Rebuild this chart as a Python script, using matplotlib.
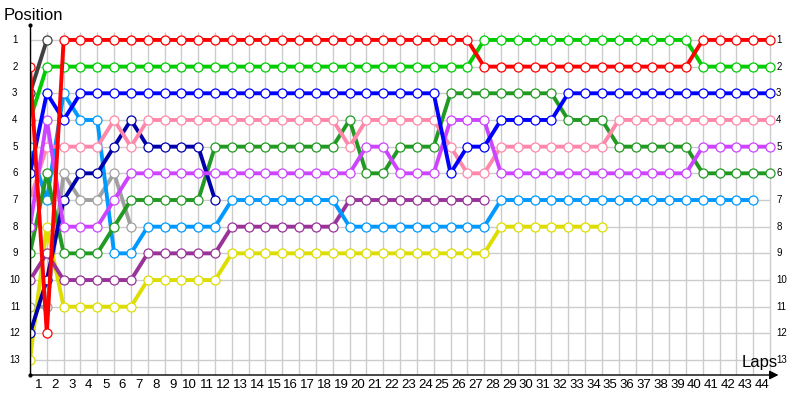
import matplotlib.pyplot as plt

plt.rcParams['font.family'] = ['Liberation Sans', 'DejaVu Sans']

# lap 0 = start, then laps 1..44 ; each list is the running position per lap
laps = list(range(45))
positions = list(range(1, 14))

red = [2, 12, 1, 1, 1, 1, 1, 1, 1, 1, 1, 1, 1, 1, 1, 1, 1, 1, 1, 1, 1, 1, 1, 1, 1, 1, 1,
       2, 2, 2, 2, 2, 2, 2, 2, 2, 2, 2, 2, 2, 1, 1, 1, 1, 1]
green = [4, 2, 2, 2, 2, 2, 2, 2, 2, 2, 2, 2, 2, 2, 2, 2, 2, 2, 2, 2, 2, 2, 2, 2, 2, 2, 2,
         1, 1, 1, 1, 1, 1, 1, 1, 1, 1, 1, 1, 1, 2, 2, 2, 2, 2]
blue = [6, 3, 4, 3, 3, 3, 3, 3, 3, 3, 3, 3, 3, 3, 3, 3, 3, 3, 3, 3, 3, 3, 3, 3, 3, 6, 5,
        5, 4, 4, 4, 4, 3, 3, 3, 3, 3, 3, 3, 3, 3, 3, 3, 3, 3]
dkgreen = [9, 6, 9, 9, 9, 8, 7, 7, 7, 7, 7, 5, 5, 5, 5, 5, 5, 5, 5, 4, 6, 6, 5, 5, 5, 3, 3,
           3, 3, 3, 3, 3, 4, 4, 4, 5, 5, 5, 5, 5, 6, 6, 6, 6, 6]
pink = [7, 5, 5, 5, 5, 4, 5, 4, 4, 4, 4, 4, 4, 4, 4, 4, 4, 4, 4, 5, 4, 4, 4, 4, 4, 5, 6,
        6, 5, 5, 5, 5, 5, 5, 5, 4, 4, 4, 4, 4, 4, 4, 4, 4, 4]
violet = [8, 4, 8, 8, 8, 7, 6, 6, 6, 6, 6, 6, 6, 6, 6, 6, 6, 6, 6, 6, 5, 5, 6, 6, 6, 4, 4,
          4, 6, 6, 6, 6, 6, 6, 6, 6, 6, 6, 6, 6, 5, 5, 5, 5, 5]
ltblue = [5, 7, 3, 4, 4, 9, 9, 8, 8, 8, 8, 8, 7, 7, 7, 7, 7, 7, 7, 8, 8, 8, 8, 8, 8, 8, 8,
          8, 7, 7, 7, 7, 7, 7, 7, 7, 7, 7, 7, 7, 7, 7, 7, 7]
purple = [10, 9, 10, 10, 10, 10, 10, 9, 9, 9, 9, 9, 8, 8, 8, 8, 8, 8, 8, 7, 7, 7, 7, 7, 7, 7, 7, 7]
yellow = [13, 8, 11, 11, 11, 11, 11, 10, 10, 10, 10, 10, 9, 9, 9, 9, 9, 9, 9, 9, 9, 9, 9, 9, 9, 9, 9,
          9, 8, 8, 8, 8, 8, 8, 8]
navy = [12, 10, 7, 6, 6, 5, 4, 5, 5, 5, 5, 7]
dkgray = [3, 1]
ltgray = [11, 11, 6, 7, 7, 6, 8]

series = [
    (ltgray, '#a0a0a0'),
    (dkgray, '#404040'),
    (yellow, '#dddd00'),
    (purple, '#993399'),
    (ltblue, '#0099ff'),
    (dkgreen, '#229922'),
    (navy, '#0000aa'),
    (pink, '#ff88aa'),
    (violet, '#cc44ff'),
    (blue, '#0000ff'),
    (green, '#00cc00'),
    (red, '#ff0000'),
]

fig = plt.figure(figsize=(8, 4), dpi=100)
ax = fig.add_axes([0.0375, 0.0625, 0.935, 0.875])
ax.set_xlim(0, 44.47)
ax.set_ylim(13.56, 0.44)
ax.axis('off')

# grid
ax.vlines(laps, 0.72, 13.56, color='#cccccc', lw=1, zorder=0)
ax.hlines(positions, 0, 44, color='#cccccc', lw=1, zorder=0)

for vals, col in series:
    ax.plot(laps[:len(vals)], vals, color=col, lw=2.8, marker='o', ms=6.5,
            mfc='white', mec=col, mew=0.9, zorder=2)

# axes lines
ax.plot([0, 0], [0.44, 13.56], color='black', lw=1, clip_on=False, zorder=3)
ax.plot([0, 0], [0.44, 13.56], 'k.', ms=4, clip_on=False, zorder=3)
ax.annotate('', xy=(44.5, 13.56), xytext=(0, 13.56), annotation_clip=False,
            arrowprops=dict(arrowstyle='-|>', color='black', lw=1,
                            mutation_scale=13, shrinkA=0, shrinkB=0))

for p in positions:
    ax.text(-0.9, p, str(p), ha='center', va='center', fontsize=7, clip_on=False)
    ax.text(44.36, p, str(p), ha='left', va='center', fontsize=7, clip_on=False)

for n in laps[1:]:
    ax.text(n - 0.5, 13.93, str(n), ha='center', va='center', fontsize=9.5, clip_on=False)

fig.text(0.005, 0.9625, 'Position', ha='left', va='center', fontsize=12)
fig.text(0.949, 0.0925, 'Laps', ha='center', va='center', fontsize=12)

fig.savefig('out.png', dpi=100)
